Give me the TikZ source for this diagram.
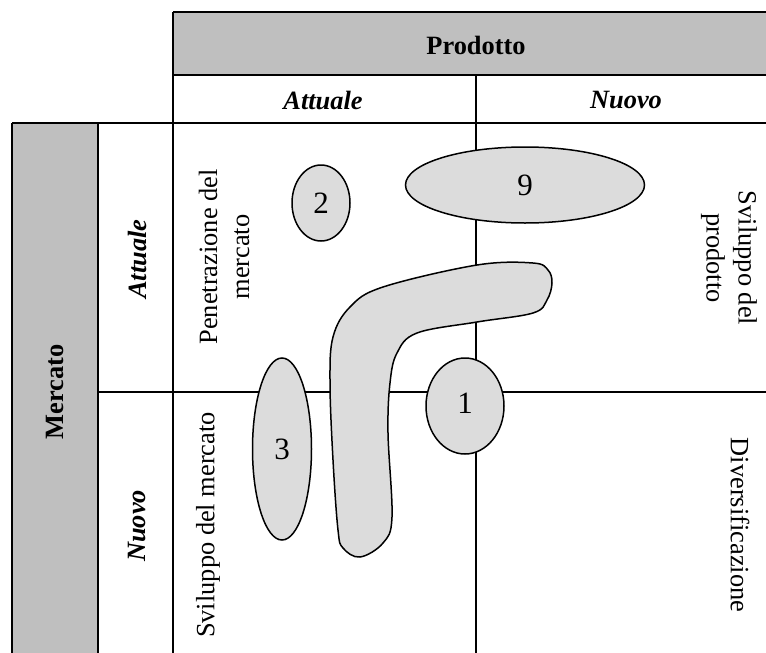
\documentclass[tikz,border=0pt]{standalone}
\usepackage{fontspec}
\setmainfont{Liberation Serif}
\usetikzlibrary{shapes.geometric}
\definecolor{grigio}{HTML}{BFBFBF}
\definecolor{grigiochiaro}{HTML}{DCDCDC}

\begin{document}
\begin{tikzpicture}[x=0.5pt, y=-0.5pt,
    bordo/.style={line width=1.1pt},
    testo/.style={font=\fontsize{13.2}{16}\selectfont, align=center, inner sep=0pt},
    titolo/.style={testo, font=\fontsize{13.2}{16}\selectfont\bfseries},
    voce/.style={testo, font=\fontsize{13.2}{16}\selectfont\bfseries\itshape},
    bolla/.style={ellipse, draw, line width=0.75pt, fill=grigiochiaro, inner sep=0pt,
      font=\fontsize{15.5}{18}\selectfont}]
    \useasboundingbox (0,0) rectangle (766,653);

    % Griglia
    \fill[grigio] (173,12) rectangle (766,75);
    \fill[grigio] (12,123) rectangle (98,653);
    \draw[bordo] (173,12) -- (766,12);
    \draw[bordo] (173,75) -- (766,75);
    \draw[bordo] (12,123) -- (766,123);
    \draw[bordo] (98,392) -- (766,392);
    \draw[bordo] (12,123) -- (12,653);
    \draw[bordo] (98,123) -- (98,653);
    \draw[bordo] (173,12) -- (173,653);
    \draw[bordo] (476,75) -- (476,653);

    % Intestazioni
    \node[titolo] (prodotto) at (476,45) {Prodotto};
    \node[voce] (attualeP) at (323,100) {Attuale};
    \node[voce] (nuovoP) at (626,100) {Nuovo};
    \node[titolo, rotate=90] (mercato) at (55,392) {Mercato};
    \node[voce, rotate=90] (attualeM) at (137,259) {Attuale};
    \node[voce, rotate=90] (nuovoM) at (137,526) {Nuovo};

    % Strategie
    \node[testo, rotate=90] (penetrazione) at (224,257) {Penetrazione del\\mercato};
    \node[testo, rotate=90] (svilMercato) at (208,525) {Sviluppo del mercato};
    \node[testo, rotate=-90] (svilProdotto) at (729,258) {Sviluppo del\\prodotto};
    \node[testo, rotate=-90] (diversificazione) at (740,525) {Diversificazione};

    % Bolle
    \draw[line width=0.75pt, fill=grigiochiaro] plot[smooth cycle, tension=0.6] coordinates {
      (360,557) (343,548) (338,530) (333,460) (330,383) (333,337) (350,307) (383,287)
      (477,265) (533,263) (548,270) (552,283) (547,300) (533,313) (477,322) (417,333)
      (397,353) (390,383) (388,433) (392,517) (383,543)};
    \node[bolla, minimum width=29pt, minimum height=38pt] (b2) at (321,203) {2};
    \node[bolla, minimum width=119.5pt, minimum height=38pt] (b9) at (525,185) {9};
    \node[bolla, minimum width=29.5pt, minimum height=91pt] (b3) at (282,449) {3};
    \node[bolla, minimum width=39pt, minimum height=48pt] (b1) at (465,406) {\raisebox{3pt}{1}};
\end{tikzpicture}
\end{document}
